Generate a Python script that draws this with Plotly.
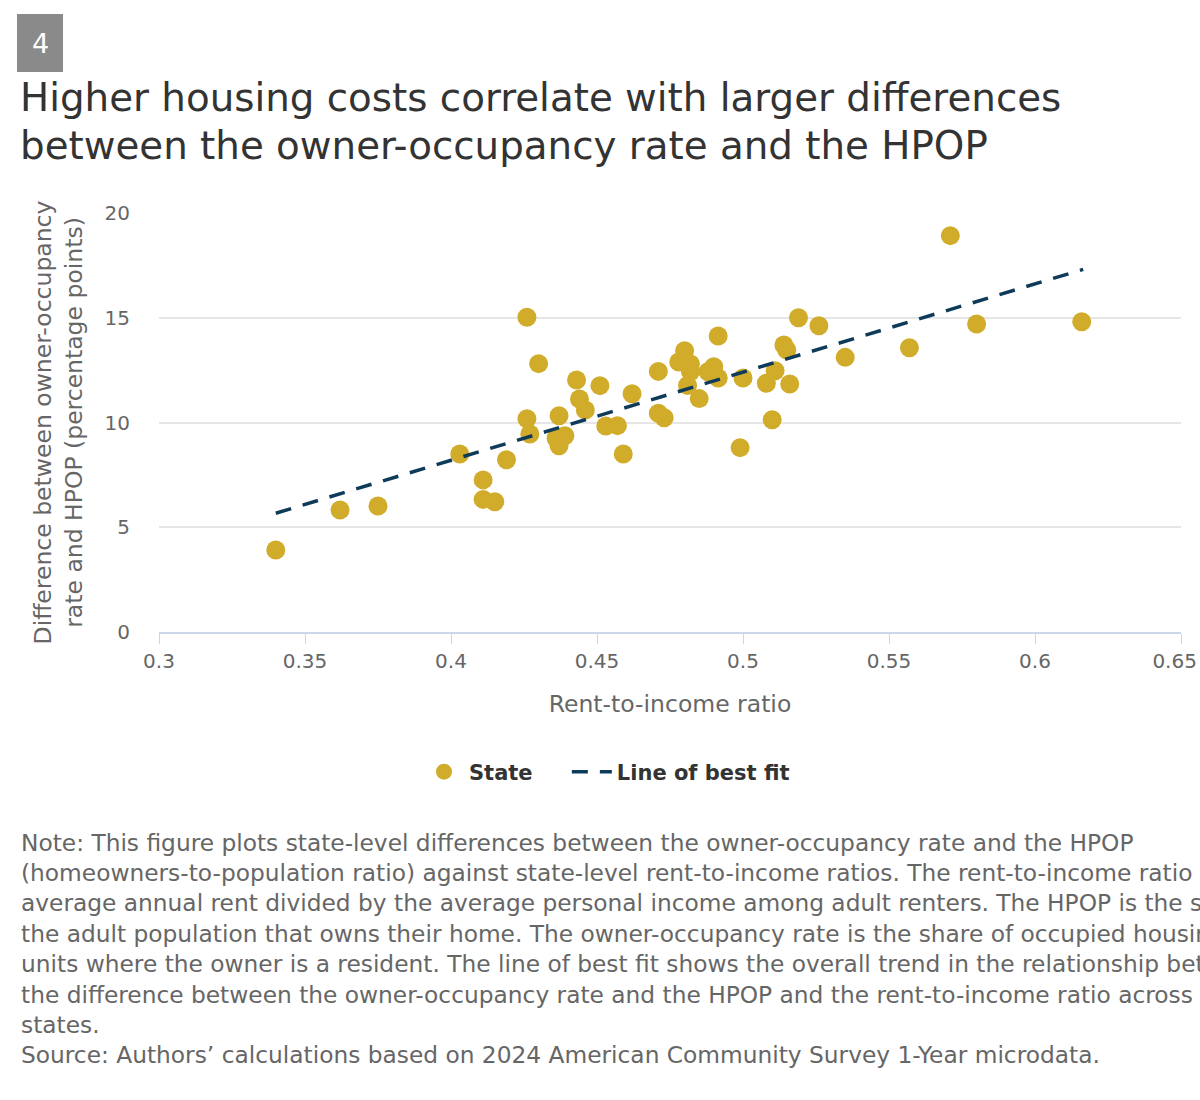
import plotly.graph_objects as go

# state-level points
rent_to_income = [
    0.340, 0.362, 0.375, 0.403, 0.411, 0.411, 0.415, 0.419, 0.426, 0.426,
    0.427, 0.430, 0.437, 0.436, 0.437, 0.439, 0.443, 0.444, 0.446, 0.451,
    0.453, 0.457, 0.459, 0.462, 0.471, 0.471, 0.473, 0.478, 0.480, 0.482,
    0.482, 0.481, 0.485, 0.488, 0.490, 0.4915, 0.4915, 0.499, 0.500, 0.508,
    0.511, 0.510, 0.514, 0.515, 0.516, 0.519, 0.526, 0.535, 0.557, 0.571,
    0.580, 0.616,
]
owner_minus_hpop = [
    3.91, 5.82, 6.01, 8.50, 7.26, 6.33, 6.22, 8.22, 15.02, 10.18,
    9.45, 12.81, 10.32, 9.25, 8.89, 9.37, 12.03, 11.12, 10.60, 11.76,
    9.83, 9.85, 8.50, 11.37, 12.44, 10.44, 10.23, 12.89, 13.43, 12.79,
    12.42, 11.77, 11.14, 12.42, 12.66, 14.13, 12.12, 8.80, 12.12, 11.87,
    12.47, 10.13, 13.70, 13.46, 11.84, 15.00, 14.62, 13.11, 13.57, 18.92,
    14.70, 14.81,
]

# end points of the fitted line as drawn
fit_x = [0.340, 0.6165]
fit_y = [5.67, 17.31]

x_ticks = [0.3, 0.35, 0.4, 0.45, 0.5, 0.55, 0.6, 0.65]
# last label nudged left so it stays inside the page, like the original
x_tick_text = ["0.3", "0.35", "0.4", "0.45", "0.5", "0.55", "0.6", "0.65\u00a0\u00a0"]
y_ticks = [0, 5, 10, 15, 20]

title_lines = [
    "Higher housing costs correlate with larger differences",
    "between the owner-occupancy rate and the HPOP",
]
note_lines = [
    "Note: This figure plots state-level differences between the owner-occupancy rate and the HPOP",
    "(homeowners-to-population ratio) against state-level rent-to-income ratios. The rent-to-income ratio is the",
    "average annual rent divided by the average personal income among adult renters. The HPOP is the share of",
    "the adult population that owns their home. The owner-occupancy rate is the share of occupied housing",
    "units where the owner is a resident. The line of best fit shows the overall trend in the relationship between",
    "the difference between the owner-occupancy rate and the HPOP and the rent-to-income ratio across",
    "states.",
    "Source: Authors\u2019 calculations based on 2024 American Community Survey 1-Year microdata.",
]

FONT = "DejaVu Sans"
W, H = 1200, 1100
L, R, T, B = 159, 19, 213, 468


def px(x):
    return (x - L) / (W - L - R)


def py(y):
    return (H - B - y) / (H - T - B)


fig = go.Figure()
fig.add_trace(go.Scatter(
    x=rent_to_income, y=owner_minus_hpop, mode="markers",
    name="State" + "\u00a0" * 4,
    marker=dict(color="#d1ac2a", size=19),
))
fig.add_trace(go.Scatter(
    x=fit_x, y=fit_y, mode="lines", name="Line of best fit",
    line=dict(color="#0f3b5a", width=3.5, dash="16px,12px"),
))

# numbered badge
fig.add_shape(type="rect", xref="paper", yref="paper",
              x0=px(17), x1=px(63), y0=py(72), y1=py(14),
              fillcolor="#8a8a8a", line_width=0)
fig.add_annotation(text="4", xref="paper", yref="paper", x=px(40), y=py(44),
                   xanchor="center", yanchor="middle",
                   showarrow=False, font=dict(family=FONT, size=27, color="white"))

for i, line in enumerate(title_lines):
    fig.add_annotation(text=line, xref="paper", yref="paper",
                       x=px(18), y=py(98 + 47 * i), xanchor="left", yanchor="middle",
                       align="left", showarrow=False,
                       font=dict(family=FONT, size=38.8, color="#333333"))

for i, line in enumerate(note_lines):
    fig.add_annotation(text=line, xref="paper", yref="paper",
                       x=px(19), y=py(842 + 30.4 * i), xanchor="left", yanchor="middle",
                       align="left", showarrow=False,
                       font=dict(family=FONT, size=23.3, color="#666666"))

fig.update_layout(
    width=W, height=H,
    margin=dict(l=L, r=R, t=T, b=B, autoexpand=False),
    plot_bgcolor="white", paper_bgcolor="white",
    font=dict(family=FONT, color="#666666"),
    showlegend=True,
    legend=dict(orientation="h", x=px(419), xanchor="left", y=py(772), yanchor="middle",
                font=dict(family=FONT, size=21, color="#333333", weight="bold"),
                itemwidth=40),
)
fig.update_xaxes(
    range=[0.3, 0.65], tickvals=x_ticks, ticktext=x_tick_text,
    showgrid=False, zeroline=False, automargin=False,
    showline=True, linecolor="#ccd6eb", linewidth=2,
    ticks="outside", ticklen=10, tickcolor="#ccd6eb", tickwidth=1,
    tickfont=dict(size=20, color="#666666"), ticklabeloverflow="allow",
    title=dict(text="Rent-to-income ratio", font=dict(size=23.5, color="#666666"), standoff=24),
)
fig.update_yaxes(
    range=[0, 20], tickvals=y_ticks, automargin=False,
    showgrid=True, gridcolor="#e6e6e6", gridwidth=1.5, zeroline=False,
    showline=False, ticks="", ticklabelstandoff=28,
    tickfont=dict(size=20, color="#666666"),
    title=dict(text="Difference between owner-occupancy<br>rate and HPOP (percentage points)",
               font=dict(size=23.5, color="#666666"), standoff=15),
)

fig.write_html("out.html", config={"displayModeBar": False},
               post_script="document.body.style.margin = '0';")
